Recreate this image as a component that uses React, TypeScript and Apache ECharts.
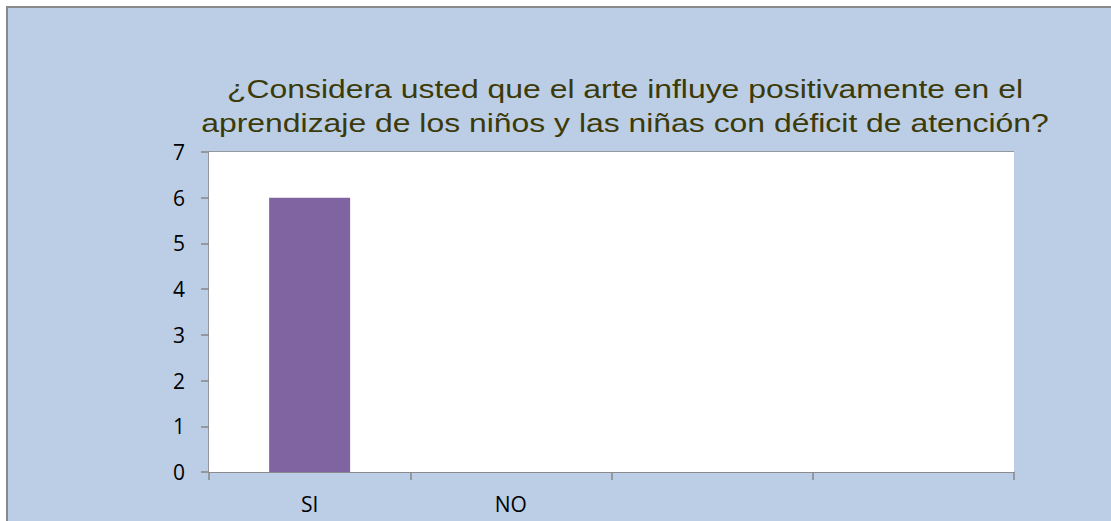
import React, { useEffect, useRef } from "react";
import * as echarts from "echarts";

const titleLines = [
  "¿Considera usted que el arte influye positivamente en el",
  "aprendizaje de los niños y las niñas con déficit de atención?",
];
const categories = ["SI", "NO", "", ""];
const values = [6, 0, null, null];
const yTicks = { min: 0, max: 7, interval: 1 };

export default function App() {
  const ref = useRef<HTMLDivElement>(null);
  useEffect(() => {
    if (!ref.current) return;
    const chart = echarts.init(ref.current, undefined, { renderer: "svg" });
    const axisColor = "#878787";
    const labelFont = "'Open Sans', 'Liberation Sans', sans-serif";
    chart.setOption({
      animation: false,
      backgroundColor: "#FFFFFF",
      graphic: [
        {
          type: "rect",
          shape: { x: 7, y: 7, width: 1120, height: 530 },
          style: { fill: "#BCCEE6", stroke: "#898989", lineWidth: 2 },
          z: -10,
          silent: true,
        },
        {
          type: "text",
          x: 625,
          y: 106,
          scaleX: 1.227,
          scaleY: 1,
          style: {
            text: titleLines.join("\n"),
            fontFamily: "'Liberation Sans', Arial, sans-serif",
            fontSize: 26,
            lineHeight: 33.5,
            fill: "#3B3A08",
            textAlign: "center",
            textVerticalAlign: "middle",
          },
          z: 10,
        },
      ],
      grid: {
        left: 209,
        right: 97,
        top: 152,
        bottom: 49,
        show: true,
        backgroundColor: "#FFFFFF",
        borderWidth: 0,
        z: 1,
      },
      xAxis: {
        type: "category",
        data: categories,
        boundaryGap: true,
        axisLine: { lineStyle: { color: axisColor, width: 1.5 } },
        axisTick: { show: true, length: 8, lineStyle: { color: axisColor, width: 1.5 } },
        axisLabel: {
          interval: 0,
          margin: 21,
          fontFamily: labelFont,
          fontSize: 21,
          color: "#000",
        },
      },
      yAxis: {
        type: "value",
        min: yTicks.min,
        max: yTicks.max,
        interval: yTicks.interval,
        axisLine: { show: true, lineStyle: { color: axisColor, width: 1.5 } },
        axisTick: { show: true, length: 8, lineStyle: { color: axisColor, width: 1.5 } },
        splitLine: { show: true, lineStyle: { color: axisColor, width: 1.5 } },
        axisLabel: {
          margin: 24,
          fontFamily: labelFont,
          fontSize: 21,
          color: "#000",
        },
      },
      series: [
        {
          type: "bar",
          data: values,
          barWidth: 81,
          itemStyle: { color: "#8064A2" },
        },
      ],
    });
    return () => chart.dispose();
  }, []);
  return (
    <div
      ref={ref}
      style={{ position: "absolute", left: 0, top: 0, width: 1111, height: 521 }}
    />
  );
}
